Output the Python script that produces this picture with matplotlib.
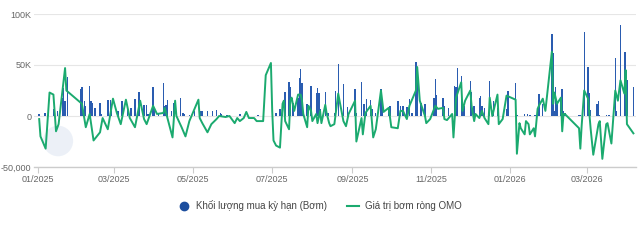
import matplotlib
matplotlib.use('Agg')
import matplotlib.pyplot as plt
import matplotlib.dates as mdates
from matplotlib.lines import Line2D
from matplotlib.patches import Ellipse
import pandas as pd

plt.rcParams['font.family'] = ['Liberation Sans', 'DejaVu Sans']

# net OMO injection (thousand bn VND)
line_dates = [
    '2025-01-02', '2025-01-03', '2025-01-07', '2025-01-10', '2025-01-13', '2025-01-15', '2025-01-17',
    '2025-01-22', '2025-01-23', '2025-02-04', '2025-02-07', '2025-02-10', '2025-02-13', '2025-02-18',
    '2025-02-20', '2025-02-24', '2025-02-28', '2025-03-03', '2025-03-06', '2025-03-10', '2025-03-13',
    '2025-03-17', '2025-03-21', '2025-03-24', '2025-03-26', '2025-03-31', '2025-04-03', '2025-04-08',
    '2025-04-09', '2025-04-15', '2025-04-17', '2025-04-18', '2025-04-22', '2025-04-25', '2025-04-28',
    '2025-05-05', '2025-05-06', '2025-05-08', '2025-05-12', '2025-05-15', '2025-05-19', '2025-05-21',
    '2025-05-26', '2025-05-29', '2025-06-02', '2025-06-04', '2025-06-06', '2025-06-09', '2025-06-11',
    '2025-06-13', '2025-06-17', '2025-06-19', '2025-06-24', '2025-06-26', '2025-06-30', '2025-07-01',
    '2025-07-02', '2025-07-04', '2025-07-07', '2025-07-09', '2025-07-10', '2025-07-11', '2025-07-14',
    '2025-07-15', '2025-07-16', '2025-07-18', '2025-07-21', '2025-07-23', '2025-07-24', '2025-07-25',
    '2025-07-28', '2025-07-29', '2025-07-31', '2025-08-01', '2025-08-04', '2025-08-05', '2025-08-07',
    '2025-08-08', '2025-08-11', '2025-08-12', '2025-08-14', '2025-08-15', '2025-08-18', '2025-08-21',
    '2025-08-22', '2025-08-25', '2025-08-27', '2025-08-29', '2025-09-03', '2025-09-04', '2025-09-08',
    '2025-09-09', '2025-09-11', '2025-09-15', '2025-09-17', '2025-09-19', '2025-09-23', '2025-09-25',
    '2025-09-29', '2025-10-01', '2025-10-06', '2025-10-08', '2025-10-10', '2025-10-13', '2025-10-15',
    '2025-10-20', '2025-10-21', '2025-10-23', '2025-10-27', '2025-10-28', '2025-10-31', '2025-11-04',
    '2025-11-06', '2025-11-10', '2025-11-11', '2025-11-13', '2025-11-17', '2025-11-18', '2025-11-20',
    '2025-11-24', '2025-11-25', '2025-11-27', '2025-12-01', '2025-12-02', '2025-12-04', '2025-12-05',
    '2025-12-08', '2025-12-10', '2025-12-12', '2025-12-15', '2025-12-16', '2025-12-18', '2025-12-22',
    '2025-12-23', '2025-12-26', '2025-12-29', '2026-01-05', '2026-01-06', '2026-01-08', '2026-01-09',
    '2026-01-12', '2026-01-13', '2026-01-15', '2026-01-16', '2026-01-19', '2026-01-20', '2026-01-22',
    '2026-01-23', '2026-01-26', '2026-01-28', '2026-02-02', '2026-02-03', '2026-02-04', '2026-02-06',
    '2026-02-09', '2026-02-10', '2026-02-11', '2026-02-12', '2026-02-23', '2026-02-24', '2026-02-25',
    '2026-02-27', '2026-03-02', '2026-03-04', '2026-03-06', '2026-03-10', '2026-03-11', '2026-03-13',
    '2026-03-16', '2026-03-17', '2026-03-20', '2026-03-23', '2026-03-25', '2026-03-27', '2026-03-30',
    '2026-03-31', '2026-04-01', '2026-04-06',
]
line_values = [
    -3, -20, -32, 23, 21, -15, -8,
    47, 25, 12, -11, 2, -24, -16,
    -2, -13, 17, 3, -8, 16, -2,
    -11, 15, -3, -8, 10, 2, 3,
    8, -21, 15, 0, -11, -20, -5,
    16, -2, -7, -16, -8, -3, 0,
    -1, 0, -7, -2, -5, -2, 4,
    -2, -2, -5, -5, 40, 52, 5,
    -24, -29, -31, 12, 15, -5, -13,
    15, 18, 5, 21, 21, 15, 2,
    -11, 10, 5, -5, 2, -7, 5,
    -7, 11, 3, -7, -10, -8, 22,
    15, -5, -10, 2, 15, -25, -2,
    -18, 3, 10, -21, -13, 25, 4,
    8, -11, -12, 5, 5, -3, 10,
    25, 48, 15, 0, -7, -3, 10,
    7, 8, -3, -4, 2, -21, 18,
    33, 5, 15, 25, 10, -5, 2,
    -2, 5, -2, -8, 18, 0, 21,
    -8, -3, 20, 16, -37, -7, -12,
    -18, -5, -8, -18, -12, -20, 7,
    10, 17, 5, 63, 12, 23, 12,
    18, -15, 2, 2, -12, -32, -10,
    25, 17, -13, -38, -8, -5, -42,
    -8, -7, -27, 25, 15, 35, 22,
    45, -8, -17,
]

# term purchase volume (injection)
bar_dates = [
    '2025-01-02', '2025-01-06', '2025-01-07', '2025-01-09', '2025-01-13', '2025-01-14', '2025-01-16',
    '2025-01-20', '2025-01-21', '2025-01-22', '2025-01-24', '2025-02-03', '2025-02-04', '2025-02-06',
    '2025-02-07', '2025-02-10', '2025-02-11', '2025-02-12', '2025-02-14', '2025-02-18', '2025-02-19',
    '2025-02-24', '2025-02-26', '2025-02-27', '2025-03-04', '2025-03-07', '2025-03-11', '2025-03-14',
    '2025-03-17', '2025-03-19', '2025-03-20', '2025-03-24', '2025-03-26', '2025-03-27', '2025-03-31',
    '2025-04-01', '2025-04-04', '2025-04-08', '2025-04-09', '2025-04-10', '2025-04-11', '2025-04-14',
    '2025-04-16', '2025-04-21', '2025-04-23', '2025-04-24', '2025-04-28', '2025-05-02', '2025-05-06',
    '2025-05-07', '2025-05-08', '2025-05-12', '2025-05-16', '2025-05-19', '2025-05-22', '2025-05-23',
    '2025-05-27', '2025-06-06', '2025-06-12', '2025-06-20', '2025-07-04', '2025-07-07', '2025-07-09',
    '2025-07-11', '2025-07-14', '2025-07-15', '2025-07-17', '2025-07-21', '2025-07-22', '2025-07-23',
    '2025-07-24', '2025-07-28', '2025-07-31', '2025-08-04', '2025-08-05', '2025-08-06', '2025-08-07',
    '2025-08-11', '2025-08-13', '2025-08-18', '2025-08-19', '2025-08-21', '2025-08-25', '2025-08-28',
    '2025-09-03', '2025-09-04', '2025-09-08', '2025-09-10', '2025-09-12', '2025-09-15', '2025-09-16',
    '2025-09-19', '2025-09-23', '2025-09-24', '2025-09-29', '2025-09-30', '2025-10-06', '2025-10-08',
    '2025-10-10', '2025-10-13', '2025-10-15', '2025-10-17', '2025-10-20', '2025-10-21', '2025-10-24',
    '2025-10-27', '2025-11-03', '2025-11-04', '2025-11-05', '2025-11-10', '2025-11-11', '2025-11-14',
    '2025-11-19', '2025-11-20', '2025-11-21', '2025-11-24', '2025-11-25', '2025-11-26', '2025-12-01',
    '2025-12-02', '2025-12-04', '2025-12-08', '2025-12-09', '2025-12-10', '2025-12-12', '2025-12-16',
    '2025-12-19', '2025-12-22', '2025-12-23', '2025-12-29', '2025-12-30', '2026-01-05', '2026-01-06',
    '2026-01-12', '2026-01-14', '2026-01-16', '2026-01-20', '2026-01-22', '2026-01-23', '2026-01-26',
    '2026-02-02', '2026-02-03', '2026-02-04', '2026-02-05', '2026-02-06', '2026-02-09', '2026-02-10',
    '2026-02-11', '2026-02-12', '2026-02-23', '2026-02-24', '2026-02-27', '2026-03-02', '2026-03-03',
    '2026-03-04', '2026-03-09', '2026-03-10', '2026-03-11', '2026-03-16', '2026-03-18', '2026-03-23',
    '2026-03-24', '2026-03-27', '2026-03-30', '2026-03-31', '2026-04-01', '2026-04-06',
]
bar_values = [
    2, 3, 3, 11, 7, 5, 5,
    18, 27, 15, 38, 26, 28, 15,
    10, 29, 15, 13, 8, 13, 2,
    16, 16, 5, 5, 15, 10, 8,
    17, 2, 24, 11, 11, 2, 28,
    8, 3, 32, 10, 11, 16, 5,
    13, 18, 3, 2, 1, 5, 3,
    5, 5, 5, 5, 6, 3, 2,
    1, 2, 2, 1, 3, 7, 12,
    24, 33, 28, 13, 18, 37, 46,
    32, 12, 29, 23, 27, 23, 7,
    24, 3, 3, 25, 51, 31, 9,
    26, 3, 33, 12, 17, 16, 7,
    3, 26, 17, 7, 10, 15, 10,
    10, 9, 17, 3, 53, 35, 13,
    12, 18, 36, 21, 18, 10, 8,
    29, 28, 47, 39, 13, 10, 34,
    24, 10, 18, 20, 10, 8, 34,
    15, 8, 8, 7, 25, 32, 1,
    2, 2, 1, 1, 5, 22, 12,
    80, 62, 5, 28, 12, 18, 26,
    5, 3, 1, 1, 82, 48, 23,
    6, 12, 15, 1, 1, 1, 57,
    5, 89, 63, 63, 35, 28,
]

y_ticks = [-50, 0, 50, 100]
y_tick_labels = ['-50,000', '0', '50K', '100K']
legend_labels = ['Khối lượng mua kỳ hạn (Bơm)', 'Giá trị bơm ròng OMO']

bar_color = '#2a5cb0'
line_color = '#1baa6f'
text_color = '#666666'

fig = plt.figure(figsize=(6.4, 2.4), dpi=100)
ax = fig.add_axes([34 / 640, 1 - 167 / 240, 602 / 640, 153 / 240])
ax.set_facecolor('none')

ax.bar(pd.to_datetime(bar_dates), bar_values, width=1.1, color=bar_color,
       linewidth=0, zorder=2)
ax.plot(pd.to_datetime(line_dates), line_values, color=line_color, lw=1.4,
        zorder=3, solid_joinstyle='round')

# faded watermark logo
ax.add_patch(Ellipse((0.04, 0.17), 0.05, 0.2, transform=ax.transAxes,
                     color='#e4ebf5', alpha=0.7, zorder=0.5, lw=0))

ax.set_xlim(pd.Timestamp('2024-12-29'), pd.Timestamp('2026-04-08'))
ax.set_ylim(-50, 100)

ax.set_yticks(y_ticks)
ax.set_yticklabels(y_tick_labels)
ax.xaxis.set_major_locator(mdates.MonthLocator(bymonth=[1, 3, 5, 7, 9, 11]))
ax.xaxis.set_major_formatter(mdates.DateFormatter('%m/%Y'))

ax.grid(axis='y', color='#e6e6e6', lw=0.8, zorder=0)
ax.set_axisbelow(True)
for s in ['top', 'right', 'left']:
    ax.spines[s].set_visible(False)
ax.spines['bottom'].set_color('#cccccc')
ax.spines['bottom'].set_linewidth(1)
ax.spines['bottom'].set_zorder(1)

ax.tick_params(axis='y', length=0, pad=2, labelsize=6.5, labelcolor=text_color)
ax.tick_params(axis='x', length=4, color='#cccccc', pad=2, labelsize=6.5,
               labelcolor=text_color)

handles = [
    Line2D([], [], marker='o', linestyle='none', markersize=6,
           markerfacecolor='#1c4e9e', markeredgecolor='#1c4e9e'),
    Line2D([], [], color=line_color, lw=1.5),
]
fig.legend(handles, legend_labels, loc='center', bbox_to_anchor=(0.5, 1 - 206 / 240),
           ncol=2, frameon=False, fontsize=7, labelcolor='#444444',
           handlelength=1.3, handletextpad=0.6, columnspacing=2.0)

fig.savefig('out.png', dpi=100)
